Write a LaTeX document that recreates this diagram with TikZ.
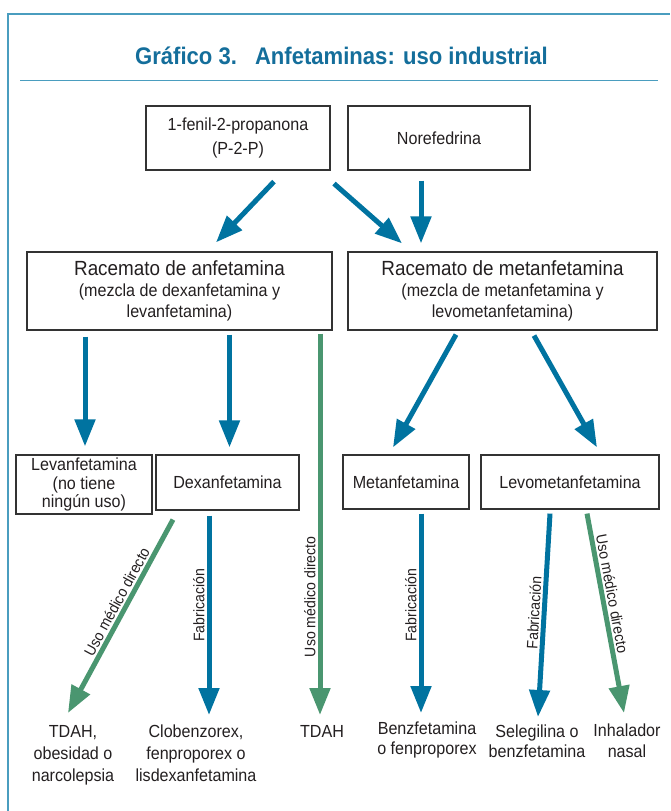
\documentclass[tikz,border=0pt]{standalone}
\usepackage{fontspec}
\setmainfont{Liberation Sans}[FakeStretch=0.92]
\usetikzlibrary{arrows.meta,calc}
\definecolor{arrblue}{RGB}{0,115,160}
\definecolor{arrgreen}{RGB}{74,150,112}
\definecolor{framecol}{RGB}{74,157,191}
\definecolor{titlecol}{RGB}{20,110,155}
\definecolor{txtcol}{RGB}{35,31,32}
\tikzset{
  box/.style={draw=black!80, line width=1.2pt, inner sep=0pt, text=txtcol},
  endtext/.style={anchor=north, inner sep=0pt, text=txtcol},
  bluearr/.style={draw=arrblue, line width=5pt, -{Triangle[width=20pt,length=27pt]}},
  greenarr/.style={draw=arrgreen, line width=5pt, -{Triangle[width=20pt,length=27pt]}},
  arrlabel/.style={text=txtcol, inner sep=2pt, font=\fontsize{15.3}{17}\selectfont}
}
\begin{document}
\begin{tikzpicture}[x=1pt,y=-1pt,
  every node/.style={align=center, font=\fontsize{17.5}{21}\selectfont}]
\useasboundingbox (0,0) rectangle (670,811);
% frame and title
\draw[framecol, line width=2pt] (8,811) -- (8,14) -- (670,14);
\draw[framecol, line width=1.8pt] (20,80.5) -- (658,80.5);
\node[text=titlecol, font=\bfseries\fontsize{24}{28}\selectfont] (title) at (341.5,56)
  {Gráfico 3.\hspace{18pt}Anfetaminas: uso industrial};
% sources
\node[box, minimum width=184pt, minimum height=64pt, font=\fontsize{17.5}{24}\selectfont] (p2p) at (238,138)
  {1-fenil-2-propanona\\(P-2-P)};
\node[box, minimum width=182pt, minimum height=64pt] (nore) at (439,138) {Norefedrina};
% racematos
\node[box, minimum width=305pt, minimum height=78pt] (racA) at (179.5,291)
  {{\fontsize{20.5}{21}\selectfont Racemato de anfetamina}\\(mezcla de dexanfetamina y\\levanfetamina)};
\node[box, minimum width=309pt, minimum height=78pt] (racM) at (502.5,291)
  {{\fontsize{20.5}{21}\selectfont Racemato de metanfetamina}\\(mezcla de metanfetamina y\\levometanfetamina)};
% isomers
\node[box, minimum width=136pt, minimum height=59pt, font=\fontsize{17.5}{18.5}\selectfont] (levA) at (84,484.5)
  {Levanfetamina\\(no tiene\\ningún uso)};
\node[box, minimum width=143pt, minimum height=55pt] (dexA) at (227.5,482.5) {Dexanfetamina};
\node[box, minimum width=126pt, minimum height=54pt] (metA) at (406,482) {Metanfetamina};
\node[box, minimum width=178pt, minimum height=54pt] (levM) at (570,482) {Levometanfetamina};
% uses
\node[endtext, font=\fontsize{17.5}{22}\selectfont] (outA) at (73,725) {TDAH,\\obesidad o\\narcolepsia};
\node[endtext, font=\fontsize{17.5}{22}\selectfont] (outB) at (196,725) {Clobenzorex,\\fenproporex o\\lisdexanfetamina};
\node[endtext] (outC) at (322,725) {TDAH};
\node[endtext, font=\fontsize{17.5}{20}\selectfont] (outD) at (427,722) {Benzfetamina\\o fenproporex};
\node[endtext, font=\fontsize{17.5}{20}\selectfont] (outE) at (537,725) {Selegilina o\\benzfetamina};
\node[endtext, font=\fontsize{17.5}{21}\selectfont] (outF) at (627,724) {Inhalador\\nasal};

\draw[bluearr] ($(p2p.south)+(36,11)$) -- ($(racA.north)+(36.5,-9)$);
\draw[bluearr] ($(p2p.south)+(96,13)$) -- ($(racM.north)+(-100.5,-8)$);
\draw[bluearr] ($(nore.south)+(-18,10)$) -- ($(racM.north)+(-81.5,-8)$);

\draw[bluearr] ($(racA.south)+(-94.5,6)$) -- ($(levA.north)+(1,-8)$);
\draw[bluearr] ($(racA.south)+(50,4)$) -- ($(dexA.north)+(2,-7)$);
\draw[greenarr] ($(racA.south)+(140.5,3)$) -- ($(outC.north)+(-2,-10)$)
  node[arrlabel, pos=0.69, rotate=90, above] {Uso médico directo};
\draw[bluearr] ($(racM.south)+(-46.5,4)$) -- ($(metA.north)+(-13,-7)$);
\draw[bluearr] ($(racM.south)+(31.5,5)$) -- ($(levM.north)+(27,-7)$);

\draw[greenarr] ($(dexA.south)+(-54.5,9)$) -- ($(outA.north)+(-5,-12)$)
  node[arrlabel, pos=0.45, sloped, above] {Uso médico directo};
\draw[bluearr] ($(dexA.south)+(-18.5,5)$) -- ($(outB.north)+(13,-10)$)
  node[arrlabel, pos=0.45, rotate=90, above] {Fabricación};
\draw[bluearr] ($(metA.south)+(15,4)$) -- ($(outD.north)+(-6,-9)$)
  node[arrlabel, pos=0.46, rotate=90, above] {Fabricación};
\draw[bluearr] ($(levM.south)+(-20,4)$) -- ($(outE.north)+(1,-8)$)
  node[arrlabel, pos=0.49, sloped, above] {Fabricación};
\draw[greenarr] ($(levM.south)+(17,4)$) -- ($(outF.north)+(-3,-11)$)
  node[arrlabel, pos=0.41, sloped, above] {Uso médico directo};
\end{tikzpicture}
\end{document}
